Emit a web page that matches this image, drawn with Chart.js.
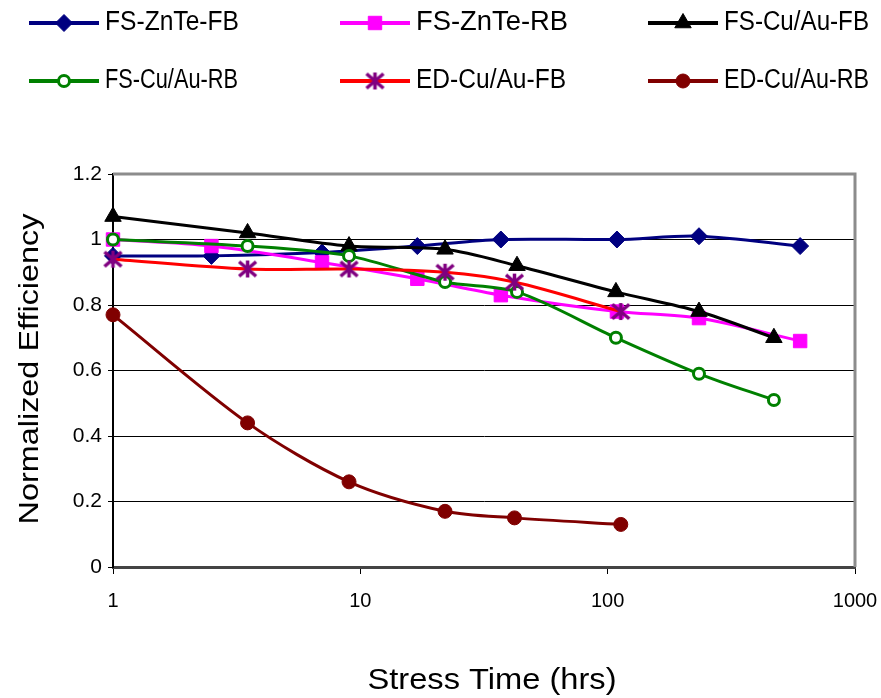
<!DOCTYPE html>
<html>
<head>
<meta charset="utf-8">
<script src="https://cdn.jsdelivr.net/npm/chart.js@4.4.0/dist/chart.umd.min.js"></script>
<style>
html, body { margin: 0; padding: 0; background: #fff; }
#wrap { width: 881px; height: 698px; position: relative; }
</style>
</head>
<body>
<div id="wrap"><canvas id="chart" width="881" height="698"></canvas></div>
<script>
// series names
const seriesNames = ['FS-ZnTe-FB', 'FS-ZnTe-RB', 'FS-Cu/Au-FB', 'FS-Cu/Au-RB', 'ED-Cu/Au-FB', 'ED-Cu/Au-RB'];

// stress times (hrs)
const znteHours = [1, 2.5, 7, 17, 37, 109, 234, 600];
const cuauHours = [1, 3.5, 9, 22, 43, 108, 234, 470];
const edHours   = [1, 3.5, 9, 22, 42, 113];

// normalized efficiency
const fsZnteFB = [0.95, 0.95, 0.96, 0.98, 1.0, 1.0, 1.01, 0.98];
const fsZnteRB = [1.0, 0.98, 0.93, 0.88, 0.83, 0.78, 0.76, 0.69];
const fsCuauFB = [1.07, 1.02, 0.98, 0.97, 0.92, 0.84, 0.78, 0.70];
const fsCuauRB = [1.0, 0.98, 0.95, 0.87, 0.84, 0.70, 0.59, 0.51];
const edCuauFB = [0.94, 0.91, 0.91, 0.90, 0.87, 0.78];
const edCuauRB = [0.77, 0.44, 0.26, 0.17, 0.15, 0.13];

// axis ticks
const xTicks = [1, 10, 100, 1000];
const yTicks = [0, 0.2, 0.4, 0.6, 0.8, 1, 1.2];

// asterisk marker (x with a vertical bar), like the Excel one
function makeAsterisk(r, color, lw) {
  const c = document.createElement('canvas');
  const s = Math.ceil(2 * r + lw + 2);
  c.width = s; c.height = s;
  const g = c.getContext('2d');
  const m = s / 2;
  g.strokeStyle = color;
  g.lineWidth = lw;
  g.beginPath();
  g.moveTo(m, m - r); g.lineTo(m, m + r);
  g.moveTo(m - r, m - r * 0.85); g.lineTo(m + r, m + r * 0.85);
  g.moveTo(m - r, m + r * 0.85); g.lineTo(m + r, m - r * 0.85);
  g.stroke();
  return c;
}
const asterisk = makeAsterisk(8.5, '#800080', 3.5);

function pts(xs, ys) {
  return xs.map((x, i) => ({ x: x, y: ys[i] }));
}

const styles = [
  { line: '#000080', fill: '#000080', edge: '#000080', point: 'rectRot', r: 8.5, bw: 1 },
  { line: '#FF00FF', fill: '#FF00FF', edge: '#FF00FF', point: 'rect', r: 9.5, bw: 1 },
  { line: '#000000', fill: '#000000', edge: '#000000', point: 'triangle', r: 9.5, bw: 1 },
  { line: '#008000', fill: '#FFFFFF', edge: '#008000', point: 'circle', r: 5.5, bw: 3 },
  { line: '#FF0000', fill: '#800080', edge: '#800080', point: asterisk, r: 8, bw: 1 },
  { line: '#800000', fill: '#800000', edge: '#800000', point: 'circle', r: 7, bw: 1 }
];

const seriesData = [
  pts(znteHours, fsZnteFB),
  pts(znteHours, fsZnteRB),
  pts(cuauHours, fsCuauFB),
  pts(cuauHours, fsCuauRB),
  pts(edHours, edCuauFB),
  pts(edHours, edCuauRB)
];

const datasets = seriesNames.map((name, i) => ({
  label: name,
  data: seriesData[i],
  borderColor: styles[i].line,
  backgroundColor: styles[i].fill,
  pointBackgroundColor: styles[i].fill,
  pointBorderColor: styles[i].edge,
  pointBorderWidth: styles[i].bw,
  pointStyle: styles[i].point,
  pointRadius: styles[i].r,
  borderWidth: 3,
  tension: 0.3,
  fill: false,
  clip: false,
  order: 10 - i   // later series drawn on top, like Excel
}));

// stretch/squeeze text to the width it has in the picture
function fitText(ctx, text, x, y, font, targetW, align, rot) {
  ctx.save();
  ctx.font = font;
  const w = ctx.measureText(text).width;
  ctx.translate(x, y);
  if (rot) ctx.rotate(rot);
  ctx.scale(targetW / w, 1);
  ctx.textAlign = align;
  ctx.textBaseline = 'middle';
  ctx.fillStyle = '#000';
  ctx.fillText(text, 0, 0);
  ctx.restore();
}

const legendCols = [29, 340, 648];
const legendRows = [23, 81];
const legendWidths = [134, 152, 145, 133, 150, 145];

const extras = {
  id: 'extras',
  afterDraw(chart) {
    const ctx = chart.ctx;
    const a = chart.chartArea;
    // gray frame on top and right
    ctx.save();
    ctx.strokeStyle = '#8c8c8c';
    ctx.lineWidth = 3;
    ctx.beginPath();
    ctx.moveTo(a.left, a.top);
    ctx.lineTo(a.right, a.top);
    ctx.lineTo(a.right, a.bottom);
    ctx.stroke();
    ctx.restore();

    // axis titles
    fitText(ctx, 'Normalized Efficiency', 30, 369, '28px Arial, "Liberation Sans"', 311, 'center', -Math.PI / 2);
    fitText(ctx, 'Stress Time (hrs)', 492, 681, '30px Arial, "Liberation Sans"', 249, 'center', 0);

    // legend: 3 columns, 2 rows
    chart.data.datasets.forEach((ds, i) => {
      const x0 = legendCols[i % 3];
      const y0 = legendRows[Math.floor(i / 3)];
      ctx.save();
      ctx.strokeStyle = ds.borderColor;
      ctx.lineWidth = 4;
      ctx.beginPath();
      ctx.moveTo(x0, y0);
      ctx.lineTo(x0 + 70, y0);
      ctx.stroke();
      ctx.fillStyle = ds.pointBackgroundColor;
      ctx.strokeStyle = ds.pointBorderColor;
      ctx.lineWidth = ds.pointBorderWidth;
      Chart.helpers.drawPoint(ctx, {
        pointStyle: ds.pointStyle,
        radius: ds.pointRadius,
        rotation: 0,
        borderWidth: ds.pointBorderWidth
      }, x0 + 35, y0);
      ctx.restore();
      fitText(ctx, ds.label, x0 + 76, y0, '27px Arial, "Liberation Sans"', legendWidths[i], 'left', 0);
    });
  }
};

new Chart(document.getElementById('chart'), {
  type: 'line',
  data: { datasets: datasets },
  options: {
    responsive: false,
    animation: false,
    events: [],
    layout: { padding: { top: 174, right: 26, left: 0, bottom: 0 } },
    plugins: {
      legend: { display: false },
      tooltip: { enabled: false }
    },
    scales: {
      x: {
        type: 'logarithmic',
        min: 1,
        max: 1000,
        afterBuildTicks(scale) {
          scale.ticks = xTicks.map(v => ({ value: v, major: true }));
        },
        afterFit(scale) {
          scale.height = 131;
          scale.paddingLeft = 0;
          scale.paddingRight = 0;
        },
        ticks: {
          color: '#000',
          font: { family: 'Arial, "Liberation Sans"', size: 20 },
          padding: 15,
          maxRotation: 0,
          autoSkip: false,
          callback: v => String(v)
        },
        grid: {
          drawOnChartArea: false,
          drawTicks: true,
          tickLength: 7,
          color: '#000',
          lineWidth: 1
        },
        border: { display: true, color: '#444', width: 3 }
      },
      y: {
        type: 'linear',
        min: 0,
        max: 1.2,
        afterBuildTicks(scale) {
          scale.ticks = yTicks.map(v => ({ value: v }));
        },
        afterFit(scale) {
          scale.width = 113;
          scale.paddingTop = 0;
          scale.paddingBottom = 0;
        },
        ticks: {
          color: '#000',
          font: { family: 'Arial, "Liberation Sans"', size: 21 },
          padding: 6,
          callback: v => String(Math.round(v * 10) / 10)
        },
        grid: {
          color: '#000',
          lineWidth: 1,
          tickLength: 5
        },
        border: { display: true, color: '#000', width: 2 }
      }
    }
  },
  plugins: [extras]
});
</script>
</body>
</html>
